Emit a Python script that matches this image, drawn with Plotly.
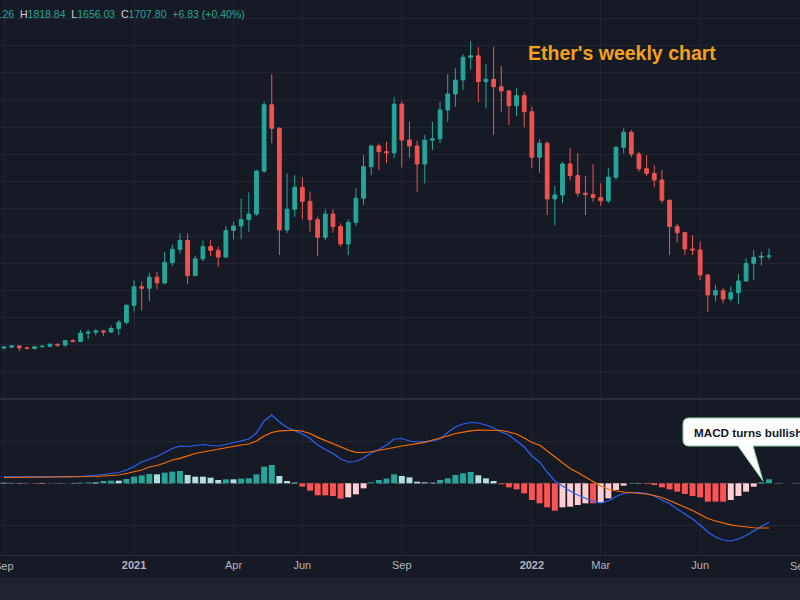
import pandas as pd
import plotly.graph_objects as go

# ---------------- data (weekly ETH candles, Sep 2020 – Aug 2022) ----------------
week_start = "2020-09-07"
n_weeks = 101
dates = pd.date_range(week_start, periods=n_weeks, freq="7D")

opens = [352, 366, 384, 355, 346, 371, 378, 409, 396, 462,
         448, 572, 585, 605, 590, 640, 730, 980, 1255, 1232,
         1395, 1310, 1610, 1805, 1935, 1418, 1665, 1845, 1790, 1690,
         2080, 2148, 2242, 2323, 2955, 3930, 3584, 2090, 2393, 2716,
         2510, 2240, 1981, 2323, 2140, 1883, 2201, 2555, 3020, 3324,
         3240, 3225, 3940, 3412, 3324, 3059, 3410, 3430, 3854, 4089,
         4294, 4628, 4650, 4270, 4305, 4196, 4133, 3917, 4064, 3828,
         3158, 3364, 2545, 2604, 3060, 2890, 2630, 2610, 2565, 2518,
         2864, 3305, 3526, 3206, 2990, 2922, 2824, 2525, 2140, 2049,
         1809, 1796, 1427, 1133, 1196, 1074, 1167, 1339, 1599, 1687,
         1700.26]
highs = [378, 396, 388, 376, 378, 395, 420, 416, 466, 482,
         618, 622, 632, 618, 680, 765, 1000, 1350, 1330, 1460,
         1470, 1765, 1875, 2040, 2040, 1710, 1935, 1940, 1843, 2145,
         2210, 2550, 2640, 2975, 3980, 4380, 3600, 2920, 2897, 2863,
         2652, 2284, 2392, 2392, 2187, 2245, 2702, 3192, 3339, 3363,
         3388, 4040, 3980, 3681, 3400, 3486, 3681, 3976, 4382, 4466,
         4676, 4868, 4780, 4530, 4784, 4500, 4148, 4175, 4123, 3900,
         3423, 3390, 2736, 3093, 3290, 3216, 2883, 3055, 2776, 2996,
         3320, 3584, 3559, 3240, 3192, 3045, 2971, 2540, 2177, 2064,
         2015, 1917, 1442, 1280, 1231, 1265, 1442, 1673, 1794, 1770,
         1818.84]
lows = [332, 358, 310, 334, 334, 363, 366, 370, 372, 440,
        442, 478, 540, 532, 570, 544, 700, 890, 905, 1045,
        1220, 1290, 1560, 1740, 1290, 1410, 1630, 1706, 1545, 1680,
        1952, 1952, 2064, 2300, 2930, 3364, 1721, 2040, 2284, 2245,
        2064, 1706, 1941, 2049, 1843, 1721, 2148, 2456, 2897, 2971,
        3069, 3147, 3010, 3148, 2652, 2775, 3265, 3363, 3681, 3902,
        4152, 4447, 3966, 3875, 3486, 3828, 3633, 3765, 3599, 3000,
        2931, 2309, 2162, 2481, 2824, 2578, 2309, 2505, 2442, 2481,
        2830, 3216, 3158, 2946, 2883, 2717, 2481, 1721, 1902, 1721,
        1721, 1353, 887, 1034, 1011, 1034, 1000, 1329, 1353, 1564,
        1656.03]
closes = [366, 384, 355, 346, 371, 378, 409, 396, 462, 448,
          572, 585, 605, 590, 640, 730, 980, 1255, 1232, 1395,
          1310, 1610, 1805, 1935, 1418, 1665, 1845, 1790, 1690, 2080,
          2148, 2242, 2323, 2955, 3930, 3584, 2090, 2393, 2716, 2510,
          2240, 1981, 2323, 2140, 1883, 2201, 2555, 3020, 3324, 3240,
          3225, 3940, 3412, 3324, 3059, 3410, 3430, 3854, 4089, 4294,
          4628, 4650, 4270, 4305, 4196, 4133, 3917, 4064, 3828, 3158,
          3364, 2545, 2604, 3060, 2890, 2630, 2610, 2565, 2518, 2864,
          3305, 3526, 3206, 2990, 2922, 2824, 2525, 2140, 2049, 1809,
          1796, 1427, 1133, 1196, 1074, 1167, 1339, 1599, 1687, 1701,
          1707.80]

# MACD indicator values
macd_line = [78, 78, 76, 73, 72, 72, 74, 74, 78, 80,
             82, 88, 94, 106, 118, 130, 160, 202, 256, 292,
             322, 370, 418, 448, 442, 454, 466, 454, 448, 466,
             490, 508, 532, 604, 748, 820, 736, 670, 634, 592,
             538, 460, 406, 358, 292, 256, 262, 304, 364, 406,
             460, 532, 538, 508, 496, 502, 508, 532, 610, 676,
             712, 730, 724, 700, 664, 616, 580, 508, 436, 328,
             256, 136, 28, -32, -92, -140, -182, -218, -236, -212,
             -158, -122, -110, -110, -122, -152, -200, -242, -308, -368,
             -428, -500, -584, -644, -680, -692, -668, -626, -572, -518,
             -464]
signal_line = [70, 71, 72, 72, 72, 72, 72, 72, 73, 74,
               75, 77, 82, 88, 94, 100, 118, 136, 160, 196,
               214, 244, 280, 300, 328, 358, 376, 394, 408, 424,
               442, 460, 472, 508, 568, 610, 630, 636, 637, 625,
               598, 552, 514, 472, 436, 400, 372, 370, 379, 394,
               408, 430, 448, 460, 474, 492, 520, 540, 568, 598,
               616, 630, 640, 640, 640, 634, 616, 592, 544, 490,
               460, 388, 316, 244, 178, 130, 76, 19, -32, -68,
               -92, -104, -110, -113, -128, -146, -170, -206, -246, -284,
               -326, -374, -422, -452, -476, -498, -512, -524, -533, -536,
               -536]
histogram = [6, 5, 3, -3, -5, -4, -2, 1, 4, 3,
             8, 12, 10, 28, 32, 32, 52, 80, 96, 112,
             108, 128, 140, 148, 100, 80, 80, 68, 40, 48,
             48, 56, 60, 108, 200, 220, 88, 28, 8, -40,
             -88, -144, -144, -152, -184, -168, -132, -60, 12, 40,
             56, 108, 88, 72, 20, 12, 8, 40, 60, 100,
             120, 136, 96, 60, 28, -12, -48, -72, -120, -200,
             -240, -288, -328, -288, -280, -260, -240, -240, -232, -180,
             -80, -28, 4, 4, -8, -20, -48, -72, -100, -128,
             -152, -168, -220, -220, -220, -200, -152, -100, -40, 12,
             48]

tick_dates = ["2020-09-07", "2021-01-04", "2021-04-05", "2021-06-07", "2021-09-06",
              "2022-01-03", "2022-03-07", "2022-06-06", "2022-09-05"]
tick_labels = ["Sep", "<b>2021</b>", "Apr", "Jun", "Sep", "<b>2022</b>", "Mar", "Jun", "Sep"]
price_grid = list(range(0, 5601, 400))

# ---------------- styling ----------------
BG = "#161a25"
GRID = "#222632"
UP = "#26a69a"
DOWN = "#ef5350"
W, H = 800, 600
PLOT_H = 555  # plot area height in px (margin bottom 45)


def px(x):
    return x / W


def py(y):
    return (PLOT_H - y) / PLOT_H


hist_colors = []
prev = 8
for h in histogram:
    if h >= 0:
        hist_colors.append("#26a69a" if h > prev else "#b2dfdb")
    else:
        hist_colors.append("#ffcdd2" if h > prev else "#ff5252")
    prev = h

fig = go.Figure()
fig.add_trace(go.Candlestick(
    x=dates, open=opens, high=highs, low=lows, close=closes,
    increasing=dict(line=dict(color=UP, width=1), fillcolor=UP),
    decreasing=dict(line=dict(color=DOWN, width=1), fillcolor=DOWN),
    whiskerwidth=0, xaxis="x", yaxis="y", showlegend=False, hoverinfo="skip"))

fig.add_trace(go.Bar(x=dates, y=histogram, marker=dict(color=hist_colors, line=dict(width=0)),
                     xaxis="x", yaxis="y2", showlegend=False, hoverinfo="skip"))
fig.add_trace(go.Scatter(x=dates, y=macd_line, mode="lines", line=dict(color="#2962ff", width=1.2),
                         xaxis="x", yaxis="y2", showlegend=False, hoverinfo="skip"))
fig.add_trace(go.Scatter(x=dates, y=signal_line, mode="lines", line=dict(color="#ff6d00", width=1.2),
                         xaxis="x", yaxis="y2", showlegend=False, hoverinfo="skip"))

t0 = pd.Timestamp(week_start)
x_start = t0 - pd.Timedelta(days=3.66)
x_end = t0 + pd.Timedelta(days=728.35)

# middle tick labels on the axis; the two edge labels (cut by the frame) as annotations
axis_text = [""] + tick_labels[1:-1] + [""]

fig.update_layout(
    width=W, height=H,
    margin=dict(l=0, r=0, t=0, b=H - PLOT_H),
    paper_bgcolor=BG, plot_bgcolor=BG,
    font=dict(family="Liberation Sans, Arial, sans-serif", color="#b2b5be"),
    showlegend=False, hovermode=False, bargap=0.22,
    xaxis=dict(type="date", range=[x_start, x_end], anchor="y2",
               tickvals=tick_dates, ticktext=axis_text, ticks="",
               tickfont=dict(size=11, color="#b2b5be"),
               showgrid=True, gridcolor=GRID, gridwidth=1,
               showline=True, linecolor="#2a2e39", linewidth=1,
               rangeslider=dict(visible=False), fixedrange=True, zeroline=False),
    yaxis=dict(domain=[py(398), 1], range=[-382, 5471], tickvals=price_grid,
               showticklabels=False, showgrid=True, gridcolor=GRID, zeroline=False, fixedrange=True),
    yaxis2=dict(domain=[0, py(400)], range=[-860, 1000], tickvals=[-500, 500],
                showticklabels=False, showgrid=True, gridcolor=GRID, zeroline=False, fixedrange=True),
)

for d, t in ((tick_dates[0], tick_labels[0]), (tick_dates[-1], tick_labels[-1])):
    fig.add_annotation(xref="x", yref="paper", x=d, y=py(566), xanchor="center", yanchor="middle",
                       text=t, showarrow=False, font=dict(size=11, color="#b2b5be"))

# pane separator & zero line & bottom strip
fig.add_shape(type="line", xref="paper", yref="paper", x0=0, x1=1, y0=py(399), y1=py(399),
              line=dict(color="#2a2e39", width=2))
fig.add_shape(type="line", xref="paper", yref="y2", x0=0, x1=1, y0=0, y1=0,
              line=dict(color="rgba(120,123,134,0.55)", width=1, dash="dash"), layer="below")
fig.add_shape(type="rect", xref="paper", yref="paper", x0=-0.01, x1=1.01, y0=py(577), y1=py(601),
              fillcolor="#1e222d", line=dict(width=0))

# header OHLC text
def g(t):
    return f"<span style='color:#d1d4dc'>{t}</span>"

sp = "\u00a0\u00a0"
header = (g("O") + "1700.26" + sp + g("H") + "1818.84" + sp + g("L") + "1656.03" + sp
          + g("C") + "1707.80" + sp + "+6.83 (+0.40%)")
fig.add_annotation(xref="paper", yref="paper", x=px(-34), y=py(14), xanchor="left", yanchor="middle",
                   text=header, showarrow=False, font=dict(size=10.5, color=UP))

# title
fig.add_annotation(xref="paper", yref="paper", x=px(526), y=py(53), xanchor="left", yanchor="middle",
                   text="<b>Ether's weekly chart</b>", showarrow=False,
                   font=dict(size=19.5, color="#f6a11a", family="Liberation Sans, Arial, sans-serif"))

# callout
pts = [("M", 689, 418), ("L", 840, 418), ("L", 840, 446), ("L", 753, 446), ("L", 763, 481),
       ("L", 738, 446), ("L", 689, 446)]
path = " ".join(f"{c} {px(x):.5f},{py(y):.5f}" for c, x, y in pts)
path += f" Q {px(683):.5f},{py(446):.5f} {px(683):.5f},{py(440):.5f}"
path += f" L {px(683):.5f},{py(424):.5f}"
path += f" Q {px(683):.5f},{py(418):.5f} {px(689):.5f},{py(418):.5f} Z"
fig.add_shape(type="path", xref="paper", yref="paper", path=path,
              fillcolor="#ffffff", line=dict(color="#8fd3a8", width=1))
fig.add_annotation(xref="paper", yref="paper", x=px(692), y=py(432), xanchor="left", yanchor="middle",
                   text="<b>MACD turns bullish</b>", showarrow=False,
                   font=dict(size=11.7, color="#131722"))

fig.write_html("out.html",
               config={"displayModeBar": False, "staticPlot": True},
               post_script="document.body.style.margin='0';document.body.style.background='#161a25';")
